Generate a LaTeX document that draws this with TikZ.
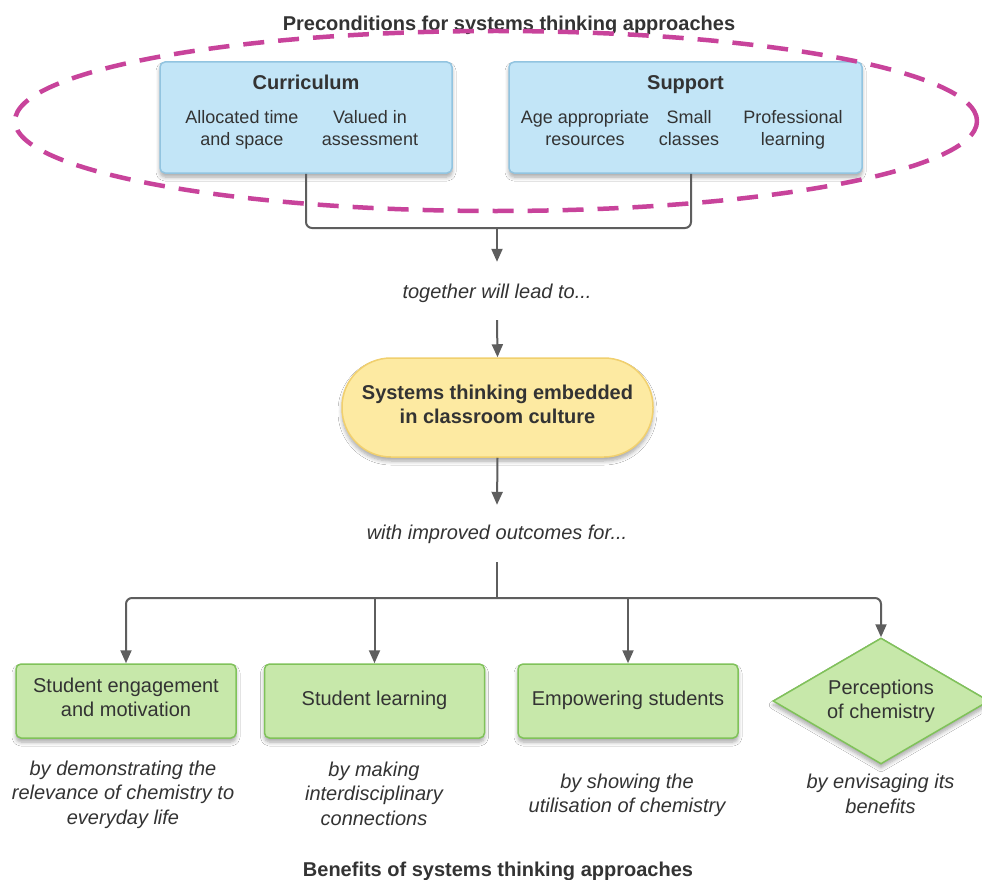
\documentclass[tikz,border=0pt]{standalone}
\usepackage{fontspec}
\setmainfont{Liberation Sans}
\usetikzlibrary{shapes.geometric,shadows.blur,arrows.meta,calc}
\definecolor{txt}{HTML}{333333}
\definecolor{lin}{HTML}{5E5E5E}
\definecolor{bluef}{HTML}{C2E5F7}
\definecolor{blued}{HTML}{92C4E0}
\definecolor{greenf}{HTML}{C7E8AA}
\definecolor{greend}{HTML}{80C25A}
\definecolor{yelf}{HTML}{FDEAA2}
\definecolor{yeld}{HTML}{F1D06E}
\definecolor{mag}{HTML}{C8439B}
\begin{document}
\begin{tikzpicture}[x=1pt,y=-1pt,
  every node/.style={text=txt},
  shad/.style={blur shadow={shadow blur steps=6, shadow xshift=0pt, shadow yshift=-4pt, shadow opacity=35, shadow blur radius=4pt}},
  bluebox/.style={draw=blued, fill=bluef, line width=1.5pt, rounded corners=5pt, inner sep=0pt, minimum height=111pt, shad},
  greenbox/.style={draw=greend, fill=greenf, line width=1.5pt, rounded corners=5pt, inner sep=0pt, minimum width=220pt, minimum height=74pt, align=center, font=\fontsize{20}{24}\selectfont, shad},
  greendia/.style={draw=greend, fill=greenf, line width=1.5pt, diamond, aspect=1.714, inner sep=0pt, minimum width=216pt, minimum height=126pt, align=center, font=\fontsize{20}{23.5}\selectfont, text height=38.8pt, text depth=4.2pt, shad},
  pill/.style={draw=yeld, fill=yelf, line width=1.5pt, rounded corners=49pt, minimum width=311pt, minimum height=99pt, align=center, font=\fontsize{20}{24.3}\selectfont\bfseries, text height=35.8pt, text depth=4.2pt, shad},
  head/.style={font=\fontsize{20}{24}\selectfont\bfseries, inner sep=0pt, anchor=base},
  inner/.style={font=\fontsize{18}{22}\selectfont, align=center, inner sep=0pt, anchor=base},
  caption/.style={font=\fontsize{20}{24.4}\selectfont\itshape, align=center, inner sep=0pt, anchor=base},
  midlabel/.style={font=\fontsize{20}{24}\selectfont\itshape, inner sep=0pt, text height=14.5pt},
  conn/.style={draw=lin, line width=2pt},
  arr/.style={conn, -{Triangle[length=13pt,width=11pt]}},
]
\fill[white] (0,0) rectangle (982,880);
\useasboundingbox (0,0) rectangle (982,880);

% titles
\node[head] (ptitle) at (509,30.5) {Preconditions for systems thinking approaches};
\node[head] (btitle) at (498,876.5) {Benefits of systems thinking approaches};

% precondition boxes
\node[bluebox, minimum width=292pt] (cur) at (306,117.5) {};
\node[bluebox, minimum width=353pt] (sup) at (685.5,117.5) {};
\node[head] (curh) at (306,90) {Curriculum};
\node[inner] (cur1) at (242,146) {Allocated time\\and space};
\node[inner] (cur2) at (370,146) {Valued in\\assessment};
\node[head] (suph) at (685.5,90) {Support};
\node[inner] (sup1) at (585,146) {Age appropriate\\resources};
\node[inner] (sup2) at (689,146) {Small\\classes};
\node[inner] (sup3) at (793,146) {Professional\\learning};

% middle
\coordinate (j1) at (497,228);
\node[midlabel, minimum height=58pt, text depth=0.5pt] (tog) at (497,291) {together will lead to...};
\node[pill] (emb) at (497.5,407.5) {Systems thinking embedded\\in classroom culture};
\node[midlabel, minimum height=57pt, text depth=2.9pt] (with) at (497,533.5) {with improved outcomes for...};
\coordinate (j2) at (497,598);

\draw[conn, rounded corners=6pt] (cur.south) |- (j1) -| ([xshift=5.5pt]sup.south);
\draw[arr] (j1) -- (tog.north);
\draw[arr] (tog.south) -- (emb.north);
\draw[arr] (emb.south) -- (with.north);

% benefits
\node[greenbox, text height=35.6pt, text depth=4.2pt] (b1) at (126,701) {Student engagement\\and motivation};
\node[greenbox, text height=14.5pt, text depth=6.5pt] (b2) at (374.5,701) {Student learning};
\node[greenbox, text height=14.5pt, text depth=6.5pt] (b3) at (628,701) {Empowering students};
\node[greendia] (b4) at (881,701) {Perceptions\\of chemistry};

\draw[conn] (with.south) -- (j2);
\draw[arr, rounded corners=6pt] (j2) -| (b1.north);
\draw[arr, rounded corners=6pt] (j2) -| (b4.north);
\draw[arr] (b2.north |- j2) -- (b2.north);
\draw[arr] (b3.north |- j2) -- (b3.north);

\node[caption] (c1) at (123,824) {by demonstrating the\\relevance of chemistry to\\everyday life};
\node[caption] (c2) at (374,825.3) {by making\\interdisciplinary\\connections};
\node[caption] (c3) at (627,812.7) {by showing the\\utilisation of chemistry};
\node[caption] (c4) at (880.5,813.3) {by envisaging its\\benefits};

% dashed oval
\node[draw=mag, ellipse, line width=4.5pt, dash pattern=on 21pt off 14pt, minimum width=962pt, minimum height=180pt, inner sep=0pt] (oval) at (496,121) {};
\end{tikzpicture}
\end{document}
